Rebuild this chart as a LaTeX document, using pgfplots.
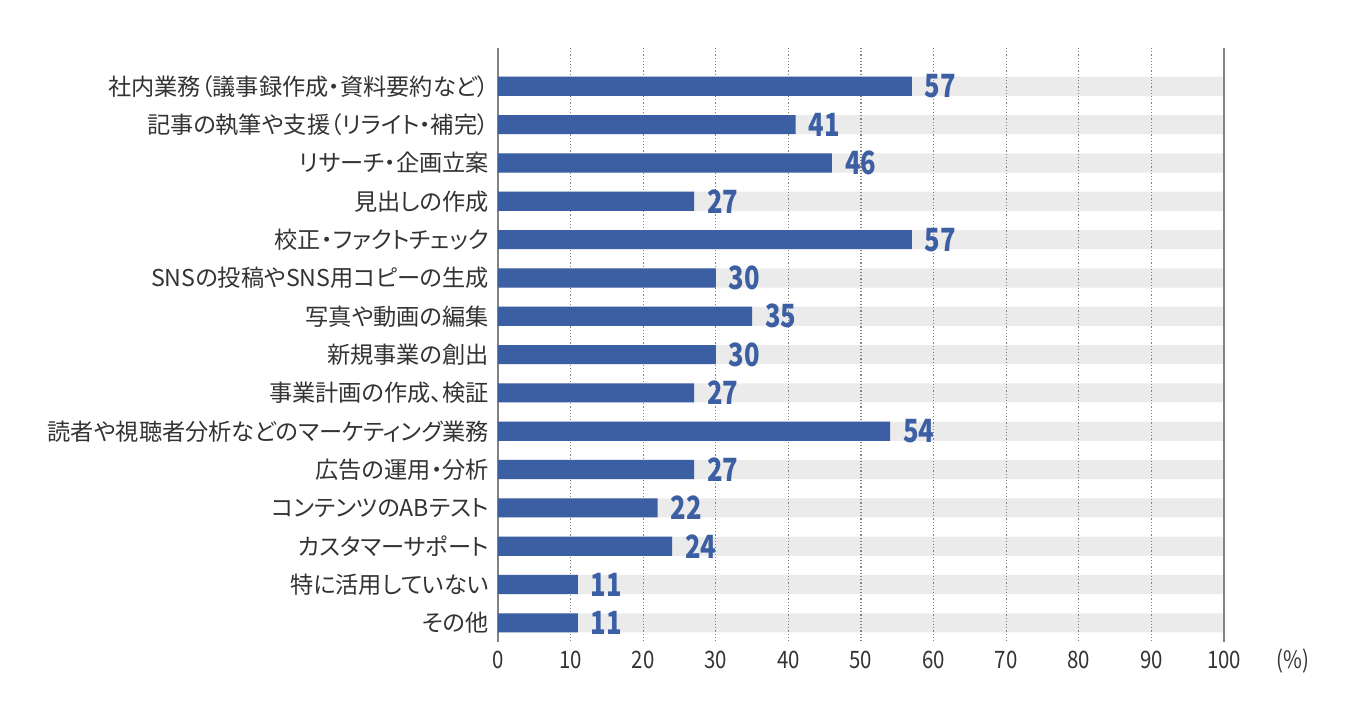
\documentclass[border=0pt]{standalone}
\usepackage{pgfplots}
\pgfplotsset{compat=1.18}
\usepackage{fontspec}
\setmainfont{Noto Sans CJK JP}[RawFeature=+palt]
\definecolor{barblue}{RGB}{60,94,163}
\definecolor{bggray}{RGB}{235,235,235}
\definecolor{txt}{RGB}{51,51,51}
\definecolor{axgray}{RGB}{130,130,130}
\begin{document}
\begin{tikzpicture}
\path[use as bounding box] (-249pt,-38pt) rectangle (424pt,321pt);
\begin{axis}[
    at={(0,0)}, anchor=south west,
    scale only axis,
    width=363pt, height=297pt,
    xmin=0, xmax=100,
    ymin=-1, ymax=14.5,
    y dir=reverse,
    bar shift=0pt,
    bar width=0.5,
    axis x line*=bottom, axis y line*=left,
    axis line style={draw=none},
    major tick length=0pt,
    xtick={0,10,...,100},
    xticklabel={\scalebox{0.85}[1]{\pgfmathprintnumber{\tick}}},
    xticklabel style={font=\fontsize{12}{12}\selectfont, text=txt, yshift=-1pt},
    /pgf/number format/assume math mode=true,
    ytick={0,...,14},
    yticklabels={
      {社内業務（議事録作成・資料要約など）},
      {記事の執筆や支援（リライト・補完）},
      {リサーチ・企画立案},
      {見出しの作成},
      {校正・ファクトチェック},
      {SNSの投稿やSNS用コピーの生成},
      {写真や動画の編集},
      {新規事業の創出},
      {事業計画の作成、検証},
      {読者や視聴者分析などのマーケティング業務},
      {広告の運用・分析},
      {コンテンツのABテスト},
      {カスタマーサポート},
      {特に活用していない},
      {その他}},
    yticklabel style={font=\fontsize{11.6}{12}\selectfont, text=txt, xshift=-1pt},
    clip=false,
]
% 背景の灰色バー
\addplot[xbar, fill=bggray, draw=none]
coordinates {
  (100,0) (100,1) (100,2) (100,3) (100,4)
  (100,5) (100,6) (100,7) (100,8) (100,9)
  (100,10) (100,11) (100,12) (100,13) (100,14)
};
% 目盛り線
\pgfplotsinvokeforeach{10,20,...,90}{
  \draw[densely dotted, draw=axgray, line width=0.6pt] (axis cs:#1,-1) -- (axis cs:#1,14.5);
}
\draw[draw=axgray, line width=1pt] (axis cs:0,-1) -- (axis cs:0,14.5);
\draw[draw=axgray, line width=1pt] (axis cs:100,-1) -- (axis cs:100,14.5);
% 回答の割合
\addplot[xbar, fill=barblue, draw=none,
    nodes near coords={\scalebox{0.8}[1]{\bfseries\pgfmathprintnumber{\pgfplotspointmeta}}},
    nodes near coords style={anchor=west, text=barblue, font=\fontsize{16}{16}\selectfont, xshift=3pt},
    point meta=explicit]
coordinates {
  (57,0) [57]
  (41,1) [41]
  (46,2) [46]
  (27,3) [27]
  (57,4) [57]
  (30,5) [30]
  (35,6) [35]
  (30,7) [30]
  (27,8) [27]
  (54,9) [54]
  (27,10) [27]
  (22,11) [22]
  (24,12) [24]
  (11,13) [11]
  (11,14) [11]
};
\node[anchor=north, text=txt, font=\fontsize{12}{12}\selectfont, yshift=0pt]
  at (axis cs:109.5,14.5) {\scalebox{0.85}[1]{(\%)}};
\end{axis}
\end{tikzpicture}
\end{document}
